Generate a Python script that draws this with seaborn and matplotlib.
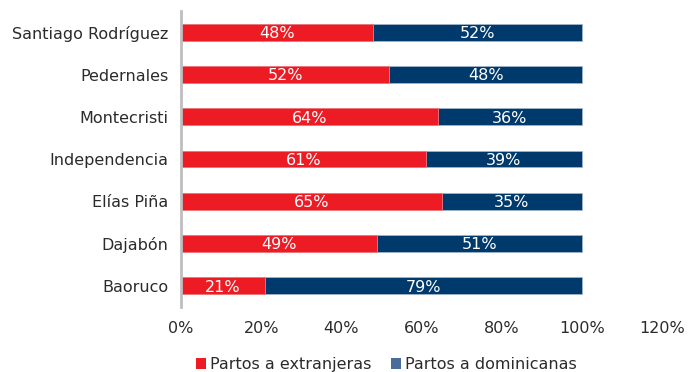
import matplotlib
matplotlib.use("Agg")
import matplotlib.pyplot as plt
import matplotlib.transforms as mtransforms
from matplotlib.patches import Patch
import seaborn as sns
import pandas as pd

provincias = ["Santiago Rodríguez", "Pedernales", "Montecristi", "Independencia",
              "Elías Piña", "Dajabón", "Baoruco"]
extranjeras = [48, 52, 64, 61, 65, 49, 21]
dominicanas = [52, 48, 36, 39, 35, 51, 79]
x_ticks = [0, 20, 40, 60, 80, 100, 120]
series_names = ["Partos a extranjeras", "Partos a dominicanas"]

RED = "#ED1C24"
NAVY = "#003A6C"
LEGEND_BLUE = "#4A6C9B"
FS = 11.5

df = pd.DataFrame({
    "provincia": provincias,
    "ext": [v / 100 for v in extranjeras],
    "dom": [v / 100 for v in dominicanas],
})
df["total"] = df["ext"] + df["dom"]

sns.set_theme(style="white")
plt.rcParams["font.family"] = ["DejaVu Sans"]

fig = plt.figure(figsize=(6.94, 3.72), dpi=100)
ax = fig.add_axes([0.2608, 0.175, 0.6931, 0.795])

# stacked bars: full bar in navy, foreign share in red drawn over it
sns.barplot(data=df, x="total", y="provincia", color=NAVY, width=0.4,
            edgecolor="#9FB3C8", linewidth=0.6, saturation=1, ax=ax, orient="h")
sns.barplot(data=df, x="ext", y="provincia", color=RED, width=0.4,
            edgecolor="#F47A7E", linewidth=0.6, saturation=1, ax=ax, orient="h")

for i, row in df.iterrows():
    ax.text(row["ext"] / 2, i + 0.03, f"{round(row['ext'] * 100)}%", ha="center",
            va="center", color="white", fontsize=FS)
    ax.text(row["ext"] + row["dom"] / 2, i + 0.03, f"{round(row['dom'] * 100)}%",
            ha="center", va="center", color="white", fontsize=FS)

ax.set_xlim(0, 1.2)
ax.set_ylim(6.5, -0.5)
ax.set_xticks([t / 100 for t in x_ticks])
ax.set_xticklabels([f"{t}%" for t in x_ticks], fontsize=FS, color="#2B2B2B")
offset = mtransforms.ScaledTranslation(9 / 100, 0, fig.dpi_scale_trans)
for lbl in ax.get_xticklabels():
    lbl.set_transform(lbl.get_transform() + offset)
ax.tick_params(axis="y", labelsize=FS, labelcolor="#2B2B2B", length=0, pad=9)
ax.tick_params(axis="x", length=0, pad=10)
ax.set_xlabel("")
ax.set_ylabel("")
for side in ["top", "right", "bottom"]:
    ax.spines[side].set_visible(False)
ax.spines["left"].set_color("#BFBFBF")
ax.spines["left"].set_linewidth(2)
ax.grid(False)

handles = [Patch(facecolor=RED, edgecolor="none"),
           Patch(facecolor=LEGEND_BLUE, edgecolor="none")]
fig.legend(handles, series_names, loc="center", bbox_to_anchor=(0.557, 0.02),
           ncol=2, frameon=False, fontsize=FS, handlelength=0.6, handleheight=0.6,
           handletextpad=0.3, columnspacing=1.2, labelcolor="#2B2B2B")

fig.savefig("out.png", dpi=100)
